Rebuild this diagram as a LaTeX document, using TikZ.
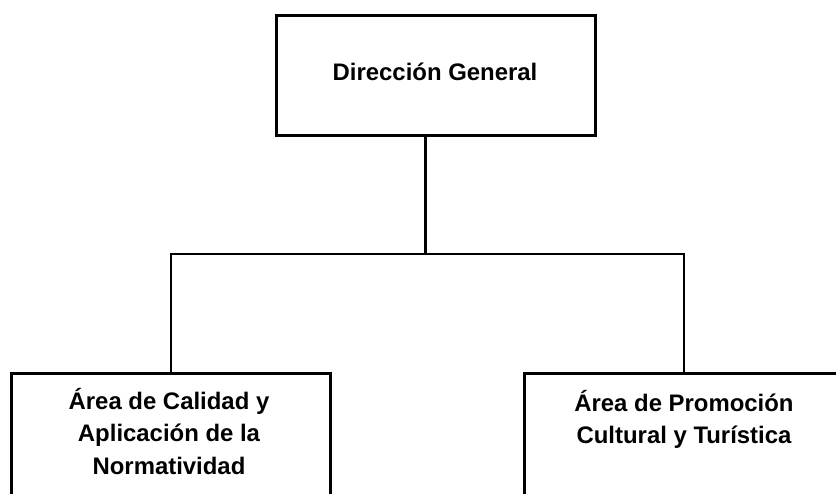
\documentclass[tikz,border=0pt]{standalone}
\usepackage{fontspec}
\setmainfont{Liberation Sans}
\begin{document}
\begin{tikzpicture}[x=1bp,y=-1bp]

% definitions
\tikzstyle{unit} = [rectangle, minimum width=319bp, draw=black, line width=2.8bp, inner sep=0pt]

\tikzstyle{caption} = [inner sep=0pt, align=center, font=\bfseries\fontsize{24}{32.5}\selectfont]

\tikzstyle{branch} = [line width=2.8bp]

\useasboundingbox (0,0) rectangle (836,494);
\clip (0,0) rectangle (836,494);

% the graph
\node (dir) [unit, minimum height=120bp] at (436,75.5) {};
\node (dirtxt) [caption] at (435,72) {Dirección General};

\node (calidad) [unit, minimum height=150bp] at (171,448.5) {};
\node (calidadtxt) [caption, anchor=north] at (169,388) {Área de Calidad y\\Aplicación de la\\Normatividad};

\node (promo) [unit, minimum height=150bp] at (684,448.5) {};
\node (promotxt) [caption, anchor=north] at (684,390) {Área de Promoción\\Cultural y Turística};

\coordinate (junction) at (425.5,254);

\draw [branch] (dir.south -| junction) -- (junction);
\draw [branch] (calidad.north) |- (junction);
\draw [branch] (promo.north) |- (junction);

\end{tikzpicture}
\end{document}
